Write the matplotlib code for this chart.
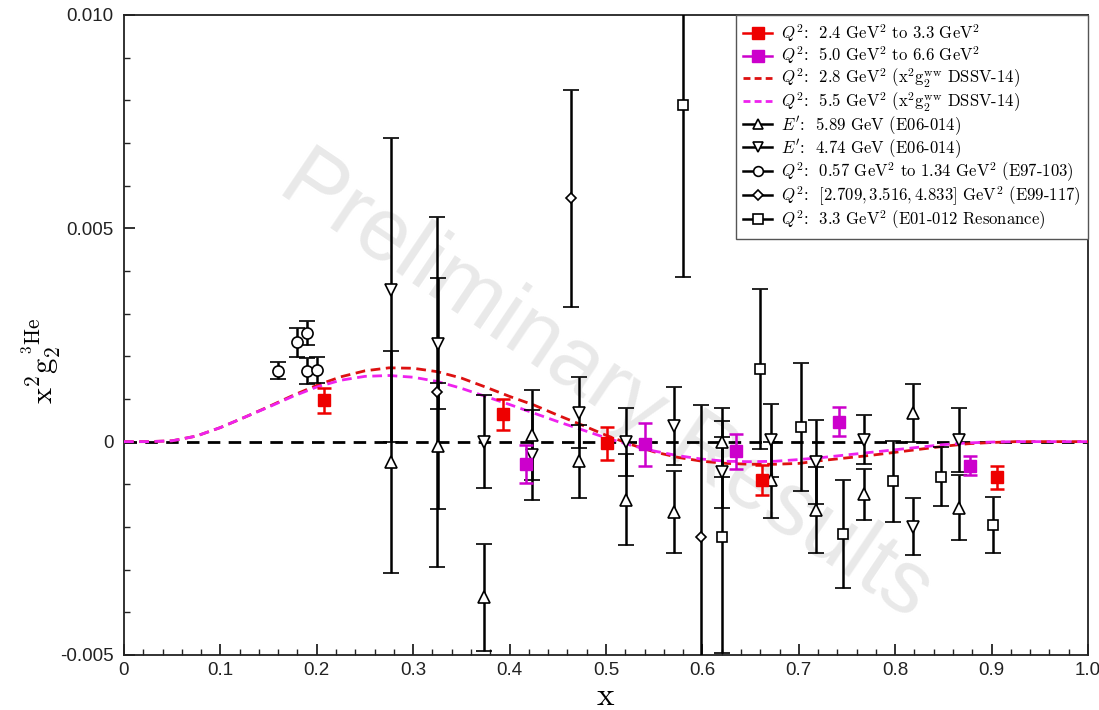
import matplotlib
matplotlib.use("Agg")
import matplotlib.pyplot as plt
from matplotlib.lines import Line2D
from matplotlib.ticker import MultipleLocator, FixedLocator
from matplotlib import font_manager

plt.rcParams["mathtext.fontset"] = "cm"

# ---- data -------------------------------------------------------------
# this measurement, two Q^2 bins
red_x = [0.207, 0.393, 0.501, 0.662, 0.906]
red_y = [0.00097, 0.00064, -0.00004, -0.00090, -0.00083]
red_err = [0.00029, 0.00037, 0.00038, 0.00036, 0.00027]

mag_x = [0.417, 0.540, 0.635, 0.742, 0.878]
mag_y = [-0.00053, -0.00006, -0.00023, 0.00047, -0.00056]
mag_err = [0.00045, 0.00050, 0.00040, 0.00034, 0.00022]

# E06-014
e06_x = [0.277, 0.326, 0.373, 0.423, 0.472, 0.521, 0.571, 0.620, 0.671, 0.718, 0.768, 0.818, 0.866]
e06_up_y = [-0.00047, -0.00010, -0.00365, 0.00015, -0.00046, -0.00136, -0.00164,
            -0.00002, -0.00090, -0.00160, -0.00123, 0.00067, -0.00155]
e06_up_err = [0.00260, 0.00148, 0.00125, 0.00106, 0.00086, 0.00107, 0.00096,
              0.00080, 0.00088, 0.00100, 0.00060, 0.00067, 0.00076]
e06_dn_y = [0.00355, 0.00230, 0.00000, -0.00031, 0.00068, 0.00000, 0.00037,
            -0.00072, 0.00003, -0.00048, 0.00005, -0.00199, 0.00004]
e06_dn_err = [0.00356, 0.00153, 0.00109, 0.00105, 0.00084, 0.00080, 0.00092,
              0.00083, 0.00086, 0.00099, 0.00058, 0.00067, 0.00074]

# E97-103
e97_x = [0.160, 0.180, 0.190, 0.190, 0.200]
e97_y = [0.00166, 0.00233, 0.00255, 0.00166, 0.00168]
e97_err = [0.00020, 0.00034, 0.00028, 0.00030, 0.00030]

# E99-117
e99_x = [0.325, 0.464, 0.599]
e99_y = [0.00117, 0.00570, -0.00223]
e99_err = [0.00410, 0.00254, 0.00308]

# E01-012 resonance
e01_x = [0.580, 0.620, 0.660, 0.702, 0.746, 0.798, 0.847, 0.901]
e01_y = [0.00790, -0.00223, 0.00170, 0.00034, -0.00217, -0.00093, -0.00082, -0.00195]
e01_err = [0.00405, 0.00272, 0.00188, 0.00150, 0.00127, 0.00095, 0.00069, 0.00066]

# x^2 g2^WW from DSSV-14 at two Q^2 values
ww_x = [0.000, 0.025, 0.050, 0.075, 0.100, 0.125, 0.150, 0.175, 0.200, 0.225,
        0.250, 0.275, 0.300, 0.325, 0.350, 0.375, 0.400, 0.425, 0.450, 0.475,
        0.500, 0.525, 0.550, 0.575, 0.600, 0.625, 0.650, 0.675, 0.700, 0.725,
        0.750, 0.775, 0.800, 0.825, 0.850, 0.875, 0.900, 0.925, 0.950, 0.975, 1.000]
ww_28 = [0.0, 0.0, 0.00002, 0.00013, 0.00033, 0.00057, 0.00082, 0.00108, 0.00132, 0.00152,
         0.00166, 0.00173, 0.00172, 0.00164, 0.00149, 0.00128, 0.00106, 0.00086, 0.00062, 0.00039,
         0.00015, -0.00006, -0.00024, -0.00037, -0.00046, -0.00051, -0.00053, -0.00053, -0.00051, -0.00044,
         -0.00038, -0.00032, -0.00025, -0.00018, -0.00011, -0.00005, -0.00002, 0.0, 0.0, 0.0, 0.0]
ww_55 = [0.0, 0.0, 0.00002, 0.00013, 0.00033, 0.00057, 0.00081, 0.00106, 0.00128, 0.00144,
         0.00153, 0.00155, 0.00151, 0.00141, 0.00125, 0.00106, 0.00087, 0.00067, 0.00047, 0.00028,
         0.00009, -0.00008, -0.00022, -0.00033, -0.00041, -0.00046, -0.00047, -0.00046, -0.00042, -0.00037,
         -0.00031, -0.00025, -0.00019, -0.00013, -0.00007, -0.00003, -0.00001, 0.0, 0.0, 0.0, 0.0]

x_ticks = [0.0, 0.1, 0.2, 0.3, 0.4, 0.5, 0.6, 0.7, 0.8, 0.9, 1.0]
x_ticklabels = ["0", "0.1", "0.2", "0.3", "0.4", "0.5", "0.6", "0.7", "0.8", "0.9", "1.0"]
y_ticks = [-0.005, 0.0, 0.005, 0.010]
y_ticklabels = ["-0.005", "0", "0.005", "0.010"]

legend_labels = [
    r"$Q^2$:  2.4 GeV$^2$ to 3.3 GeV$^2$",
    r"$Q^2$:  5.0 GeV$^2$ to 6.6 GeV$^2$",
    r"$Q^2$:  2.8 GeV$^2$ (x$^2$g$_2^{\rm ww}$ DSSV-14)",
    r"$Q^2$:  5.5 GeV$^2$ (x$^2$g$_2^{\rm ww}$ DSSV-14)",
    r"$E^{\prime}$:  5.89 GeV (E06-014)",
    r"$E^{\prime}$:  4.74 GeV (E06-014)",
    r"$Q^2$:  0.57 GeV$^2$ to 1.34 GeV$^2$ (E97-103)",
    r"$Q^2$:  $[2.709, 3.516, 4.833]$ GeV$^2$ (E99-117)",
    r"$Q^2$:  3.3 GeV$^2$ (E01-012 Resonance)",
]

# ---- fonts ------------------------------------------------------------
available = {f.name for f in font_manager.fontManager.ttflist}
tick_font = "Liberation Sans" if "Liberation Sans" in available else "DejaVu Sans"
legend_font = "cmr10" if "cmr10" in available else "DejaVu Serif"

# ---- figure -----------------------------------------------------------
fig = plt.figure(figsize=(10.99, 7.10), dpi=100)
ax = fig.add_axes([0.1128, 0.0775, 0.8772, 0.9014])
ax.set_xlim(0.0, 1.0)
ax.set_ylim(-0.005, 0.010)

RED = "#ee0000"
MAG = "#cc00cc"

ax.text(0.5, 0.42, "Preliminary Results", transform=ax.transAxes,
        rotation=-34, rotation_mode="anchor", ha="center", va="center",
        fontsize=64, family=tick_font, color="#e9e9e9", zorder=0.5)

ax.axhline(0.0, color="black", lw=2.0, ls=(0, (4.5, 3.0)), zorder=2)

ax.plot(ww_x, ww_28, color="#dd1111", lw=2.0, ls=(0, (3.5, 2.0)), zorder=3)
ax.plot(ww_x, ww_55, color="#ee22ee", lw=2.0, ls=(0, (3.5, 2.0)), zorder=3)

open_kw = dict(ls="none", color="black", mfc="white", mec="black", mew=1.2,
               elinewidth=1.8, capthick=1.8, capsize=6, ms=8, zorder=4)
ax.errorbar(e01_x, e01_y, yerr=e01_err, marker="s", **{**open_kw, "ms": 7.5})
ax.errorbar(e99_x, e99_y, yerr=e99_err, marker="D", **{**open_kw, "ms": 5.5})
ax.errorbar(e97_x, e97_y, yerr=e97_err, marker="o", **{**open_kw, "ms": 8})
ax.errorbar(e06_x, e06_up_y, yerr=e06_up_err, marker="^", **open_kw)
ax.errorbar(e06_x, e06_dn_y, yerr=e06_dn_err, marker="v", **open_kw)

fill_kw = dict(ls="none", marker="s", ms=8.5, elinewidth=1.8, capthick=1.8,
               capsize=5, zorder=5)
ax.errorbar(mag_x, mag_y, yerr=mag_err, color=MAG, **fill_kw)
ax.errorbar(red_x, red_y, yerr=red_err, color=RED, **fill_kw)

# axes styling
for sp in ax.spines.values():
    sp.set_linewidth(1.3)
    sp.set_color("#222222")
ax.xaxis.set_major_locator(FixedLocator(x_ticks))
ax.set_xticklabels(x_ticklabels)
ax.yaxis.set_major_locator(FixedLocator(y_ticks))
ax.set_yticklabels(y_ticklabels)
ax.xaxis.set_minor_locator(MultipleLocator(0.02))
ax.yaxis.set_minor_locator(MultipleLocator(0.001))
ax.tick_params(which="both", direction="in", top=False, right=False, color="#222222")
ax.tick_params(which="major", length=8, width=1.3, labelsize=13.5)
ax.tick_params(axis="x", which="major", pad=5)
ax.tick_params(axis="y", which="major", pad=7.5)
ax.tick_params(which="minor", length=4.5, width=1.0)
for lab in ax.get_xticklabels() + ax.get_yticklabels():
    lab.set_family(tick_font)
    lab.set_color("#222222")

ax.set_xlabel(r"$\mathrm{x}$", fontsize=24, labelpad=0)
ax.set_ylabel(r"$\mathrm{x^2g_2^{\,^3He}}$", fontsize=22, labelpad=4)
ax.yaxis.set_label_coords(-0.062, 0.46)

# legend
handles = [
    Line2D([], [], color=RED, lw=1.8, marker="s", ms=8),
    Line2D([], [], color=MAG, lw=1.8, marker="s", ms=8),
    Line2D([], [], color="#dd1111", lw=2.0, ls=(0, (2.5, 1.5))),
    Line2D([], [], color="#ee22ee", lw=2.0, ls=(0, (2.5, 1.5))),
    Line2D([], [], color="black", lw=1.8, marker="^", ms=7, mfc="white", mew=1.2),
    Line2D([], [], color="black", lw=1.8, marker="v", ms=7, mfc="white", mew=1.2),
    Line2D([], [], color="black", lw=1.8, marker="o", ms=7, mfc="white", mew=1.2),
    Line2D([], [], color="black", lw=1.8, marker="D", ms=5.5, mfc="white", mew=1.2),
    Line2D([], [], color="black", lw=1.8, marker="s", ms=7, mfc="white", mew=1.2),
]
leg = ax.legend(handles, legend_labels, loc="upper right", borderaxespad=0.0,
                prop={"family": legend_font, "size": 12}, handlelength=1.7,
                handletextpad=0.55, labelspacing=0.02, borderpad=0.45,
                fancybox=False, frameon=True, framealpha=1.0)
leg.get_frame().set_edgecolor("#555555")
leg.get_frame().set_linewidth(1.0)
leg.set_zorder(6)

fig.savefig("out.png", dpi=100)
